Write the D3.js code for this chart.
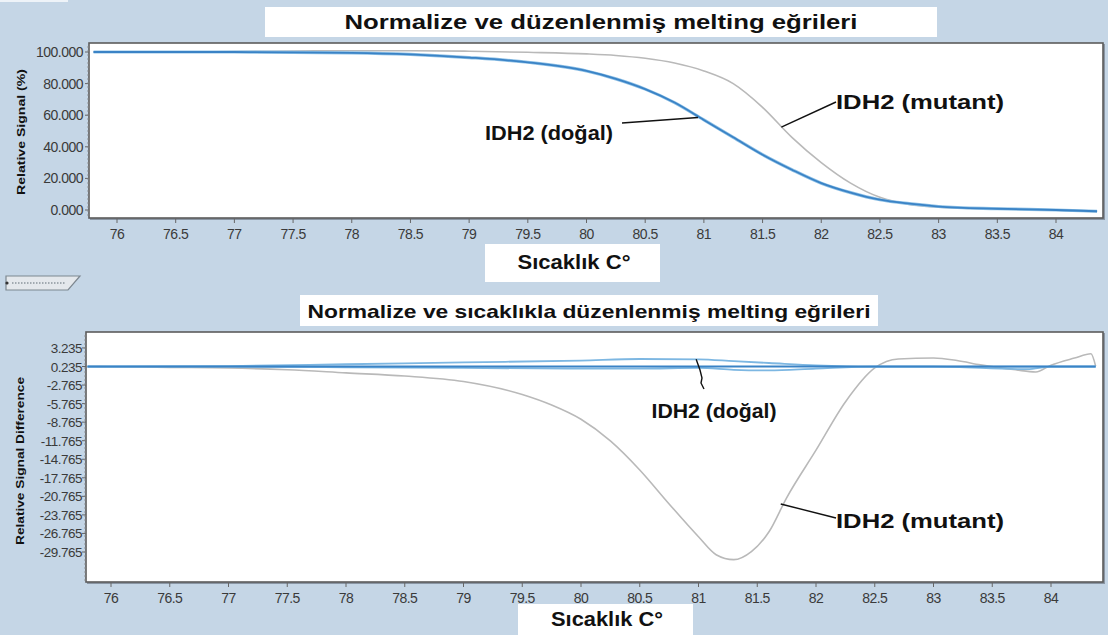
<!DOCTYPE html>
<html>
<head>
<meta charset="utf-8">
<script src="https://cdn.jsdelivr.net/npm/d3@7/dist/d3.min.js"></script>
<style>
  html, body { margin: 0; padding: 0; background: #c5d6e6; }
  svg { display: block; }
  .tick-label { font-family: "Liberation Sans", Arial, sans-serif; font-size: 14px; fill: #3a3a3a; letter-spacing: -0.5px; }
  .bold { font-family: "Liberation Sans", Arial, sans-serif; font-weight: bold; fill: #111; }
</style>
</head>
<body>
<svg id="chart" width="1108" height="635"></svg>
<script>
// Temperatures (°C) at which curves were sampled
const meltTemps = [75.8, 76, 76.5, 77, 77.5, 78, 78.5, 79, 79.5, 80, 80.25, 80.5, 80.75, 81, 81.25, 81.5, 81.75, 82, 82.25, 82.5, 82.75, 83, 83.5, 84, 84.35];
// Normalised melting curves, relative signal (%)
const meltWild   = [100, 100, 100, 100, 99.8, 99.5, 98.5, 96.5, 93.5, 88, 83, 76.5, 68, 57, 46, 35, 25.5, 17, 11, 6.5, 4, 2.2, 0.8, 0, -0.8];
const meltMutant = [100, 100, 100, 100.3, 100.6, 100.8, 100.8, 100.5, 99.8, 98.8, 97.8, 96, 93, 88, 80, 65, 46, 30, 17, 8, 3.5, 1.8, 0.6, -0.2, -1];

// Temperature-shifted difference curves
const diffTempsMutant = [75.8, 76, 76.5, 77, 77.5, 78, 78.5, 79, 79.5, 79.75, 80, 80.25, 80.5, 80.75, 81, 81.15, 81.3, 81.45, 81.6, 81.75, 82, 82.25, 82.5, 82.7, 83, 83.2, 83.4, 83.7, 83.87, 84, 84.2, 84.34, 84.38];
const diffMutant      = [0.235, 0.2, 0.1, 0, -0.3, -0.8, -1.3, -2.2, -4.3, -6, -8.3, -11.8, -16.5, -22, -27.3, -30.2, -31, -29.7, -26.5, -21, -13.3, -5.5, 0, 1.45, 1.6, 1.2, 0.5, -0.3, -0.65, 0.45, 1.6, 2.3, 0.3];
const diffTempsWild = [75.8, 77, 78, 79, 80, 80.5, 81, 81.3, 81.6, 82, 82.5, 83, 83.8, 84, 84.38];
const diffWildA     = [0.2, 0.3, 0.6, 0.9, 1.2, 1.45, 1.4, 1.1, 0.8, 0.4, 0.2, 0.2, 0.2, 0.2, 0.2];
const diffWildB     = [0.2, 0.2, 0.1, 0, -0.1, -0.1, 0, -0.3, -0.4, -0.1, 0.2, 0.2, -0.2, 0.2, 0.2];
const diffBaseTemps = [75.8, 84.38];
const diffBase      = [0.235, 0.235];

// Axis ticks
const xTicks = [76, 76.5, 77, 77.5, 78, 78.5, 79, 79.5, 80, 80.5, 81, 81.5, 82, 82.5, 83, 83.5, 84];
const yTicksTop = [100, 80, 60, 40, 20, 0];
const yTickLabelsTop = ["100.000", "80.000", "60.000", "40.000", "20.000", "0.000"];
const yTicksBot = [3.235, 0.235, -2.765, -5.765, -8.765, -11.765, -14.765, -17.765, -20.765, -23.765, -26.765, -29.765];
const yTickLabelsBot = ["3.235", "0.235", "-2.765", "-5.765", "-8.765", "-11.765", "-14.765", "-17.765", "-20.765", "-23.765", "-26.765", "-29.765"];

const svg = d3.select("#chart");

// small mark at the top-left corner of the window
svg.append("rect").attr("x", 0).attr("y", 0).attr("width", 68).attr("height", 2).attr("fill", "#eef3f8");

// bold text drawn to a fixed width
function boldText(parent, x, y, text, size, width, transform) {
  const t = parent.append("text").attr("class", "bold").attr("x", x).attr("y", y)
    .attr("text-anchor", "middle").attr("font-size", size).text(text);
  if (width) t.attr("textLength", width).attr("lengthAdjust", "spacingAndGlyphs");
  if (transform) t.attr("transform", transform);
  return t;
}

function panel(cfg) {
  const g = svg.append("g");
  const { left, right, top, bottom } = cfg.box;
  const clipId = "clip-" + cfg.id;
  svg.append("clipPath").attr("id", clipId)
    .append("rect").attr("x", left + 1).attr("y", top + 1).attr("width", right - left - 2).attr("height", bottom - top - 2);

  // plot background + frame
  g.append("rect").attr("x", left).attr("y", top).attr("width", right - left).attr("height", bottom - top)
    .attr("fill", "#ffffff");
  g.append("rect").attr("x", left + 1).attr("y", bottom).attr("width", right - left).attr("height", 2).attr("fill", "#8a96a4");
  g.append("rect").attr("x", right).attr("y", top + 1).attr("width", 2).attr("height", bottom - top + 1).attr("fill", "#8a96a4");
  g.append("rect").attr("x", left).attr("y", top).attr("width", right - left).attr("height", bottom - top)
    .attr("fill", "none").attr("stroke", "#5c5c5c").attr("stroke-width", 1.6);

  const x = cfg.x, y = cfg.y;

  // x axis
  const xAxis = g.append("g");
  xTicks.forEach(t => {
    xAxis.append("line").attr("x1", x(t)).attr("x2", x(t)).attr("y1", bottom).attr("y2", bottom + 5)
      .attr("stroke", "#666").attr("stroke-width", 1);
    xAxis.append("text").attr("class", "tick-label").attr("x", x(t)).attr("y", bottom + 21)
      .attr("text-anchor", "middle").text(String(t));
  });

  // y axis
  const yAxis = g.append("g");
  cfg.yTicks.forEach((t, i) => {
    yAxis.append("line").attr("x1", left - 4).attr("x2", left).attr("y1", y(t)).attr("y2", y(t))
      .attr("stroke", "#666").attr("stroke-width", 1);
    yAxis.append("text").attr("class", "tick-label").attr("x", left - cfg.labelGap).attr("y", y(t) + 5)
      .attr("text-anchor", "end").style("font-size", cfg.labelSize + "px").text(cfg.yLabels[i]);
  });
  // minor ticks along the y axis
  for (let yy = top + 4; yy < bottom; yy += 4) {
    yAxis.append("line").attr("x1", left - 2).attr("x2", left).attr("y1", yy).attr("y2", yy)
      .attr("stroke", "#888").attr("stroke-width", 0.8);
  }

  // y title
  boldText(g, 0, 0, cfg.yTitle, 11.5, cfg.yTitleLen, `translate(${cfg.yTitleX},${cfg.yTitleY}) rotate(-90)`);

  // series
  const plot = g.append("g").attr("clip-path", `url(#${clipId})`);
  cfg.series.forEach(s => {
    const pts = s.t.map((t, i) => [t, s.v[i]]);
    const line = d3.line().x(d => x(d[0])).y(d => y(d[1])).curve(d3.curveMonotoneX);
    plot.append("path").attr("d", line(pts)).attr("fill", "none")
      .attr("stroke", s.color).attr("stroke-width", s.width).attr("stroke-linejoin", "round");
  });

  return g;
}

function labelBox(x0, y0, w, h, text, size, cx, baseline, width) {
  svg.append("rect").attr("x", x0).attr("y", y0).attr("width", w).attr("height", h).attr("fill", "#ffffff");
  boldText(svg, cx, baseline, text, size, width);
}

// ---- Upper panel: normalised melting curves ----
const xTop = d3.scaleLinear().domain([76, 84]).range([117, 1056]);
const yTop = d3.scaleLinear().domain([0, 100]).range([210, 52]);
panel({
  id: "top",
  box: { left: 89, right: 1103, top: 43, bottom: 218 },
  x: xTop, y: yTop,
  yTicks: yTicksTop, yLabels: yTickLabelsTop, labelGap: 6, labelSize: 14,
  yTitle: "Relative Signal (%)", yTitleX: 25, yTitleY: 132, yTitleLen: 126,
  series: [
    { t: meltTemps, v: meltMutant, color: "#b9b9b9", width: 1.6 },
    { t: meltTemps, v: meltWild, color: "#8fc1e6", width: 3.2 },
    { t: meltTemps, v: meltWild, color: "#3a83c6", width: 1.8 }
  ]
});

labelBox(265, 7, 672, 30, "Normalize ve düzenlenmiş melting eğrileri", 20, 601, 29, 513);
labelBox(485, 244, 175, 38, "Sıcaklık C°", 21, 574, 269, 113);

// annotations, upper panel
svg.append("line").attr("x1", 622).attr("y1", 123).attr("x2", xTop(80.95)).attr("y2", yTop(58.5)).attr("stroke", "#111").attr("stroke-width", 1.4);
boldText(svg, 549, 140, "IDH2 (doğal)", 20, 128);
svg.append("line").attr("x1", xTop(81.66)).attr("y1", yTop(52.5)).attr("x2", 836).attr("y2", 102).attr("stroke", "#111").attr("stroke-width", 1.4);
boldText(svg, 920, 109, "IDH2 (mutant)", 20, 168);

// ---- splitter grip between the panels ----
svg.append("path").attr("d", "M6,276 L80,276 L68,290 L6,290 Z").attr("fill", "#e4e8ec").attr("stroke", "#7d8790").attr("stroke-width", 1.2);
svg.append("line").attr("x1", 12).attr("x2", 66).attr("y1", 283).attr("y2", 283).attr("stroke", "#8b949c").attr("stroke-width", 1.5).attr("stroke-dasharray", "1.5,1.5");
svg.append("circle").attr("cx", 7).attr("cy", 283).attr("r", 1.6).attr("fill", "#333");

// ---- Lower panel: temperature-shifted difference curves ----
const xBot = d3.scaleLinear().domain([76, 84]).range([111, 1051]);
const yBot = d3.scaleLinear().domain([0.235, -29.765]).range([366.5, 552]);
panel({
  id: "bot",
  box: { left: 86, right: 1103, top: 332, bottom: 582 },
  x: xBot, y: yBot,
  yTicks: yTicksBot, yLabels: yTickLabelsBot, labelGap: 4, labelSize: 13.5,
  yTitle: "Relative Signal Difference", yTitleX: 24, yTitleY: 461, yTitleLen: 168,
  series: [
    { t: diffTempsMutant, v: diffMutant, color: "#b9b9b9", width: 1.6 },
    { t: diffTempsWild, v: diffWildA, color: "#7db7e2", width: 1.8 },
    { t: diffTempsWild, v: diffWildB, color: "#7db7e2", width: 1.8 },
    { t: diffBaseTemps, v: diffBase, color: "#3a83c6", width: 1.8 }
  ]
});

labelBox(300, 295, 578, 31, "Normalize ve sıcaklıkla düzenlenmiş melting eğrileri", 19, 589, 318, 563);
labelBox(518, 604, 175, 31, "Sıcaklık C°", 21, 607, 626, 112);

// annotations, lower panel
svg.append("path").attr("d", `M${xBot(80.98)},${yBot(1.4)} L700,370 L702,378 L701,383 L704,389`).attr("fill", "none").attr("stroke", "#111").attr("stroke-width", 1.4);
boldText(svg, 714, 418, "IDH2 (doğal)", 20, 125);
svg.append("line").attr("x1", xBot(81.7)).attr("y1", yBot(-22)).attr("x2", 836).attr("y2", 518).attr("stroke", "#111").attr("stroke-width", 1.4);
boldText(svg, 920, 528, "IDH2 (mutant)", 20, 168);
</script>
</body>
</html>
